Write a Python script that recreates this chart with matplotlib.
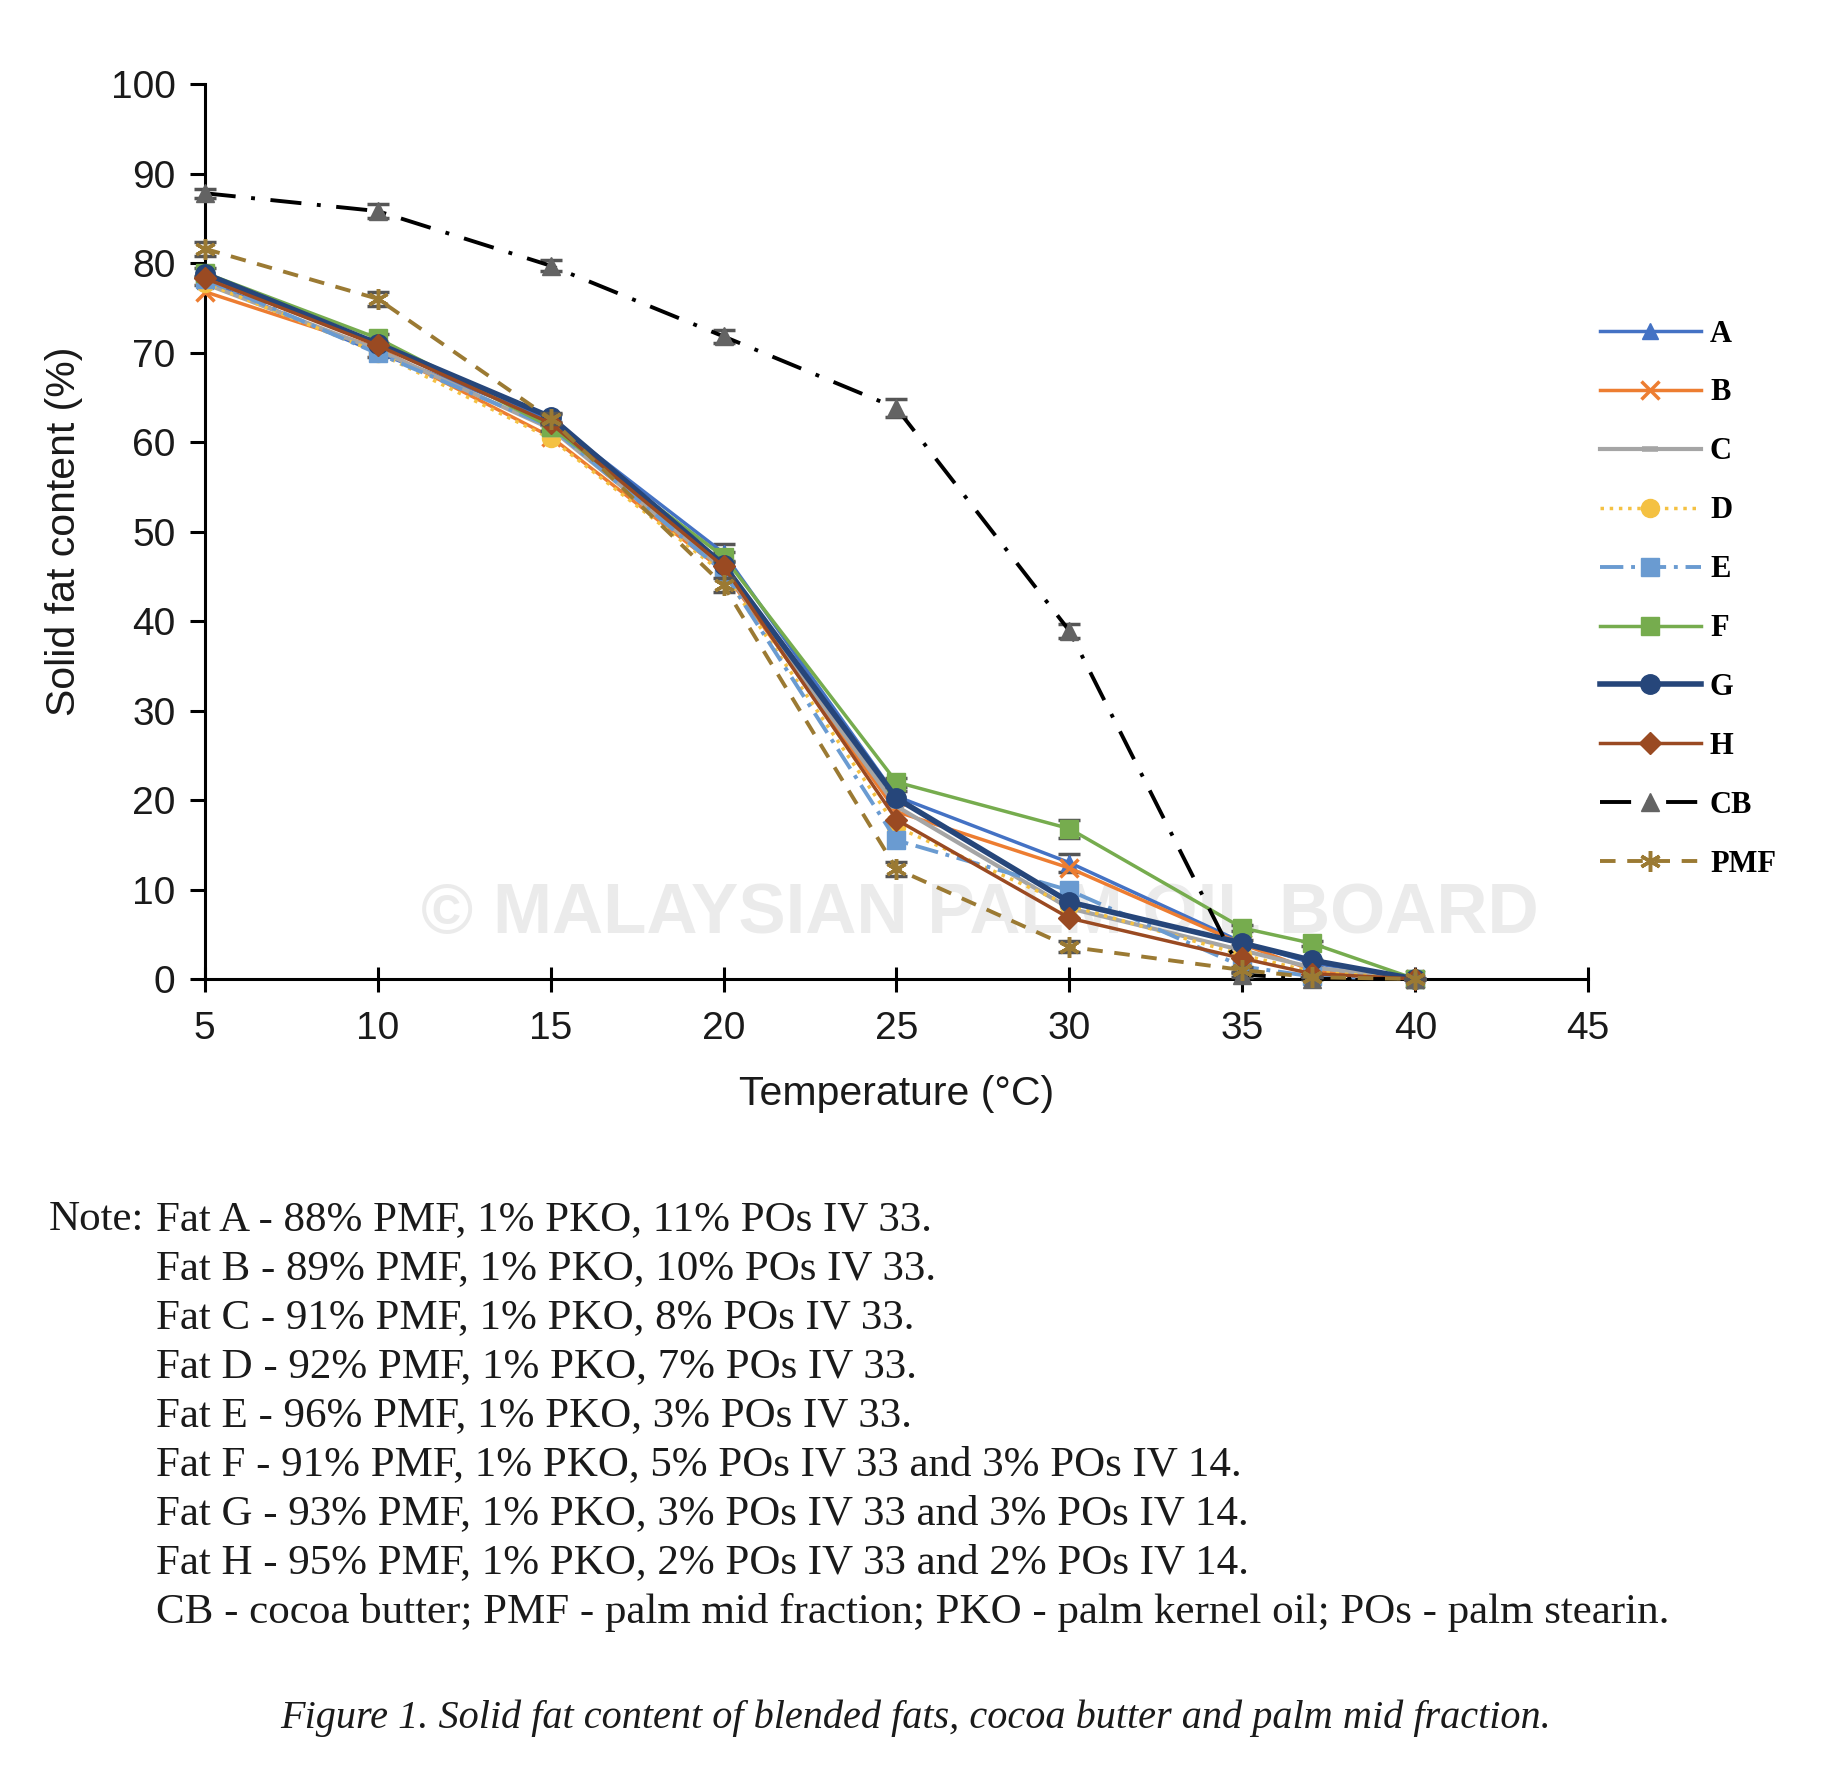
import matplotlib
matplotlib.use("Agg")
import matplotlib.pyplot as plt

# Solid fat content (%)
temps = [5, 10, 15, 20, 25, 30, 35, 37, 40]

sfc_A = [78.0, 70.0, 62.5, 47.6, 20.4, 13.0, 4.1, 1.8, 0.0]
sfc_B = [76.8, 70.5, 60.6, 45.6, 18.7, 12.4, 3.9, 1.0, 0.0]
sfc_C = [77.7, 70.3, 61.5, 45.8, 19.3, 7.9, 3.2, 1.3, 0.0]
sfc_D = [77.8, 70.0, 60.4, 45.3, 17.0, 8.2, 2.7, 0.8, 0.0]
sfc_E = [78.2, 69.9, 61.7, 45.5, 15.5, 9.9, 1.4, 0.3, 0.0]
sfc_F = [78.9, 71.6, 61.7, 47.2, 22.0, 16.8, 5.7, 4.0, 0.0]
sfc_G = [78.8, 71.0, 62.8, 46.3, 20.2, 8.6, 4.0, 2.1, 0.0]
sfc_H = [78.3, 70.8, 62.1, 46.1, 17.8, 6.8, 2.3, 0.6, 0.0]
sfc_CB = [87.8, 85.8, 79.7, 71.8, 63.8, 38.9, 0.5, 0.0, 0.0]
sfc_PMF = [81.6, 76.0, 62.6, 44.0, 12.3, 3.6, 1.0, 0.2, 0.0]

# error bars (small, only where visible)
err_A = [0.5, 0.5, 0.6, 1.0, 0.6, 1.0, 0.3, 0.3, 0.0]
err_F = [0.5, 0.5, 0.5, 0.5, 0.5, 1.0, 0.3, 0.3, 0.0]
err_CB = [0.5, 0.8, 0.6, 0.7, 1.0, 0.8, 0.3, 0.0, 0.0]
err_PMF = [0.8, 0.8, 0.6, 0.8, 0.8, 0.6, 0.3, 0.0, 0.0]

labels = ["A", "B", "C", "D", "E", "F", "G", "H", "CB", "PMF"]

notes = [
    "Fat A - 88% PMF, 1% PKO, 11% POs IV 33.",
    "Fat B - 89% PMF, 1% PKO, 10% POs IV 33.",
    "Fat C - 91% PMF, 1% PKO, 8% POs IV 33.",
    "Fat D - 92% PMF, 1% PKO, 7% POs IV 33.",
    "Fat E - 96% PMF, 1% PKO, 3% POs IV 33.",
    "Fat F - 91% PMF, 1% PKO, 5% POs IV 33 and 3% POs IV 14.",
    "Fat G - 93% PMF, 1% PKO, 3% POs IV 33 and 3% POs IV 14.",
    "Fat H - 95% PMF, 1% PKO, 2% POs IV 33 and 2% POs IV 14.",
    "CB - cocoa butter; PMF - palm mid fraction; PKO - palm kernel oil; POs - palm stearin.",
]
caption = "Figure 1. Solid fat content of blended fats, cocoa butter and palm mid fraction."

plt.rcParams['font.family'] = ['Liberation Sans', 'DejaVu Sans']

fig = plt.figure(figsize=(18.34, 17.80), dpi=100)
ax = fig.add_axes([0.1116, 0.45, 0.7544, 0.5028])

# watermark behind the data
ax.text(0.56, 0.072, "\u00a9 MALAYSIAN PALM OIL BOARD", transform=ax.transAxes,
        ha='center', va='center', fontsize=51, fontweight='bold',
        color='#ebebeb', zorder=0)

ecol = '#555555'
styles = [
    (sfc_A, dict(color='#4472c4', ls='-', lw=2.5, marker='^', ms=12), err_A),
    (sfc_B, dict(color='#ed7d31', ls='-', lw=2.5, marker='x', ms=13, mew=2.5), None),
    (sfc_C, dict(color='#a5a5a5', ls='-', lw=3.0, marker='_', ms=12, mew=4), None),
    (sfc_D, dict(color='#f4c142', ls=':', lw=2.5, marker='o', ms=13), None),
    (sfc_E, dict(color='#6a9bd1', ls=(0, (6, 2, 1, 2)), lw=2.8, marker='s', ms=13), None),
    (sfc_F, dict(color='#76ac4e', ls='-', lw=2.5, marker='s', ms=13), err_F),
    (sfc_G, dict(color='#26467a', ls='-', lw=4.0, marker='o', ms=14), None),
    (sfc_H, dict(color='#9a4a22', ls='-', lw=2.5, marker='D', ms=11), None),
    (sfc_CB, dict(color='black', ls=(0, (8, 4, 1, 4)), lw=2.8, marker='^', ms=13,
                  mfc='#636363', mec='#636363'), err_CB),
    (sfc_PMF, dict(color='#9b7a33', ls=(0, (4, 3)), lw=2.8, marker=(6, 2, 0), ms=15,
                   mew=2.5), err_PMF),
]

for i, (vals, kw, err) in enumerate(styles):
    if err is not None:
        ax.errorbar(temps, vals, yerr=err, fmt='none', ecolor=ecol, elinewidth=2,
                    capsize=8, capthick=2.5, zorder=3 + i, clip_on=False)
    ax.plot(temps, vals, label=labels[i], zorder=4 + i, clip_on=False, **kw)

ax.set_xlim(5, 45)
ax.set_ylim(0, 100)
ax.set_xticks(range(5, 50, 5))
ax.set_yticks(range(0, 110, 10))
for s in ['top', 'right']:
    ax.spines[s].set_visible(False)
for s in ['left', 'bottom']:
    ax.spines[s].set_linewidth(2.2)
ax.tick_params(axis='y', direction='out', length=11, width=2.2, labelsize=28,
               pad=10, labelcolor='#1a1a1a')
ax.tick_params(axis='x', direction='inout', length=18, width=2.2, labelsize=28,
               pad=14, labelcolor='#1a1a1a')

ax.set_xlabel("Temperature (\u00b0C)", fontsize=29.5, labelpad=20, color='#1a1a1a')
ax.set_ylabel("Solid fat content (%)", fontsize=29.5, labelpad=20, color='#1a1a1a')

leg = ax.legend(loc='upper left', bbox_to_anchor=(0.8724, 0.8205),
                bbox_transform=fig.transFigure, frameon=False, borderpad=0,
                borderaxespad=0, handlelength=3.3, handletextpad=0.3,
                labelspacing=0.98,
                prop={'family': 'Liberation Serif', 'weight': 'bold', 'size': 22})

# note block under the chart
serif = ['Liberation Serif', 'DejaVu Serif']
fig.text(49 / 1834, 1 - 1220 / 1780, "Note:", fontsize=31, family=serif,
         va='center', ha='left', color='#1a1a1a')
for k, line in enumerate(notes):
    y = 1220 + k * 49
    fig.text(156 / 1834, 1 - y / 1780, line, fontsize=31, family=serif,
             va='center', ha='left', color='#1a1a1a')

fig.text(916 / 1834, 1 - 1718 / 1780, caption, fontsize=29, family=serif,
         style='italic', va='center', ha='center', color='#1a1a1a')

fig.savefig("out.png", dpi=100)
